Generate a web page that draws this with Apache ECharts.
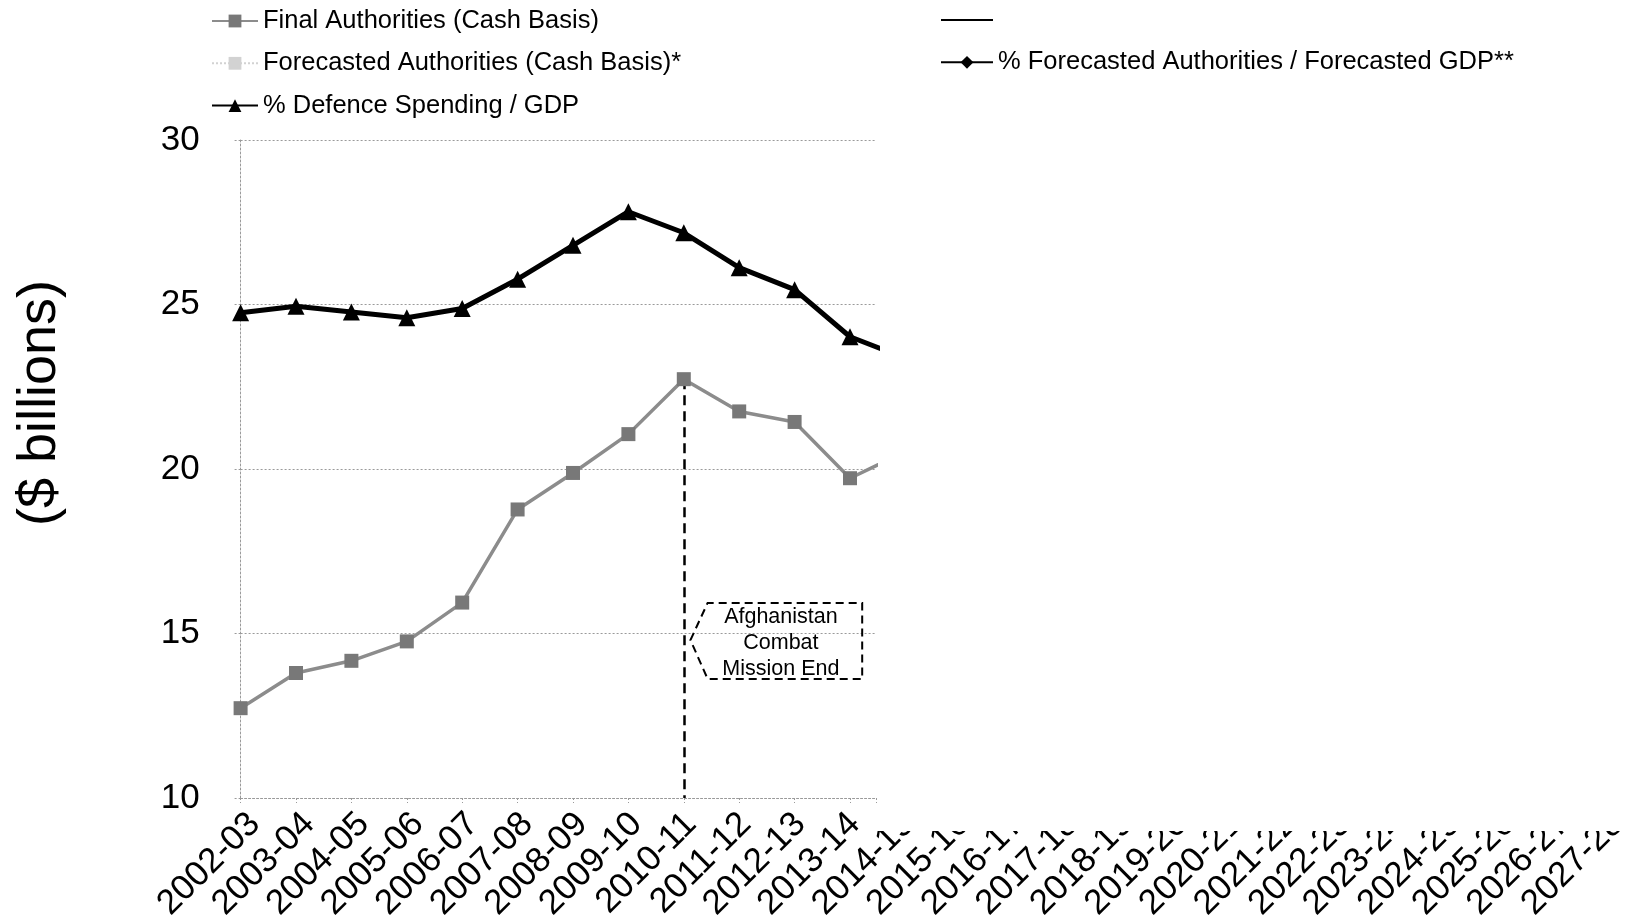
<!DOCTYPE html>
<html>
<head>
<meta charset="utf-8">
<script src="https://cdn.jsdelivr.net/npm/echarts@6/dist/echarts.min.js"></script>
<style>
  html, body { margin: 0; padding: 0; background: #fff; }
  #chart { width: 1633px; height: 924px; }
</style>
</head>
<body>
<div id="chart"></div>
<script>
// Fiscal years on the category axis
const categories = [
  '2002-03', '2003-04', '2004-05', '2005-06', '2006-07', '2007-08', '2008-09',
  '2009-10', '2010-11', '2011-12', '2012-13', '2013-14', '2014-15', '2015-16',
  '2016-17', '2017-18', '2018-19', '2019-20', '2020-21', '2021-22', '2022-23',
  '2023-24', '2024-25', '2025-26', '2026-27', '2027-28'
];

// Final authorities, cash basis ($ billions)
const finalAuthorities = [12.73, 13.8, 14.17, 14.76, 15.94, 18.77, 19.88, 21.06, 22.73, 21.75, 21.43, 19.72, 20.53];

// Defence spending as a share of GDP, plotted on the same scale
const defenceShareOfGdp = [24.75, 24.95, 24.77, 24.6, 24.88, 25.77, 26.8, 27.82, 27.18, 26.12, 25.45, 24.02, 23.37];

// Forecast series (nothing plotted in the visible part of the chart)
const forecastAuthorities = [];
const forecastShareOfGdp = [];
const blankLegendLine = [];

// Value axis ticks
const yMin = 10, yMax = 30, yStep = 5;

// Year the Afghanistan combat mission ended
const missionEndYear = '2010-11';
const calloutLines = ['Afghanistan', 'Combat', 'Mission End'];

// ---- layout ----
const FONT = '"Liberation Sans", Arial, sans-serif';
const plotLeft = 240.6, plotTop = 140, plotBottom = 798;
const step = 55.4;            // px between fiscal years
const visibleSpan = 11.47;    // years shown before the plot is cut off
const plotRight = plotLeft + step * visibleSpan;
const labelShift = 14;
const gridGray = '#9a9a9a';

const asPairs = arr => arr.map((v, i) => [i, v]);
const missionIdx = categories.indexOf(missionEndYear);

const chart = echarts.init(document.getElementById('chart'), null, { renderer: 'canvas' });

const legendText = { fontSize: 25.5, lineHeight: 26, color: '#000', fontFamily: FONT };

chart.setOption({
  animation: false,
  backgroundColor: '#fff',
  textStyle: { fontFamily: FONT, color: '#000' },
  legend: [
    {
      orient: 'vertical', left: 206, top: 3,
      itemWidth: 46, itemHeight: 16, itemGap: 16.3,
      selectedMode: false,
      textStyle: legendText,
      data: ['Final Authorities (Cash Basis)', 'Forecasted Authorities (Cash Basis)*', '% Defence Spending / GDP']
    },
    {
      orient: 'vertical', left: 935, top: 2,
      itemWidth: 52, itemHeight: 16, itemGap: 16.3,
      selectedMode: false,
      textStyle: legendText,
      data: [{ name: ' ', itemStyle: { opacity: 0 } }, '% Forecasted Authorities / Forecasted GDP**']
    }
  ],
  grid: [
    // carries the full run of year labels
    { left: plotLeft + labelShift, top: plotTop, width: step * (categories.length - 1), height: plotBottom - plotTop },
    // the drawn plot area
    { left: plotLeft, top: plotTop, width: plotRight - plotLeft, height: plotBottom - plotTop }
  ],
  xAxis: [
    {
      gridIndex: 0, type: 'category', data: categories, boundaryGap: false,
      axisLine: { show: false }, axisTick: { show: false }, splitLine: { show: false },
      axisLabel: { interval: 0, rotate: 45, fontSize: 35, margin: 33, color: '#000', fontFamily: FONT }
    },
    {
      gridIndex: 1, type: 'value', min: 0, max: visibleSpan, interval: 1,
      axisLabel: { show: false },
      axisLine: { show: true, lineStyle: { color: gridGray, type: [2, 2], width: 1 } },
      axisTick: { show: true, length: 5, lineStyle: { color: gridGray, type: [2, 2] } },
      splitLine: { show: false }
    }
  ],
  yAxis: [
    {
      gridIndex: 1, type: 'value', min: yMin, max: yMax, interval: yStep,
      axisLabel: { fontSize: 35, margin: 41, color: '#000', fontFamily: FONT },
      axisLine: { show: true, lineStyle: { color: gridGray, type: [2, 2], width: 1 } },
      axisTick: { show: true, length: 8, lineStyle: { color: gridGray, type: [2, 2] } },
      splitLine: { show: true, lineStyle: { color: gridGray, type: [2, 2], width: 1 } }
    },
    { gridIndex: 0, type: 'value', min: yMin, max: yMax, show: false }
  ],
  series: [
    {
      name: 'Final Authorities (Cash Basis)', type: 'line',
      xAxisIndex: 1, yAxisIndex: 0,
      data: asPairs(finalAuthorities),
      symbol: 'rect', symbolSize: 14, z: 3,
      lineStyle: { color: '#8c8c8c', width: 3.5 },
      itemStyle: { color: '#787878' },
      markLine: {
        z: 1, silent: true, symbol: 'none',
        label: { show: false },
        lineStyle: { color: '#000', width: 2.5, type: [10, 6] },
        data: [[{ coord: [missionIdx, finalAuthorities[missionIdx]] }, { coord: [missionIdx, yMin] }]]
      }
    },
    {
      name: 'Forecasted Authorities (Cash Basis)*', type: 'line',
      xAxisIndex: 1, yAxisIndex: 0,
      data: forecastAuthorities,
      symbol: 'rect', symbolSize: 10,
      lineStyle: { color: '#d2d2d2', width: 2, type: 'dotted' },
      itemStyle: { color: '#d2d2d2' }
    },
    {
      name: '% Defence Spending / GDP', type: 'line',
      xAxisIndex: 1, yAxisIndex: 0,
      data: asPairs(defenceShareOfGdp),
      symbol: 'triangle', symbolSize: 17, z: 4,
      lineStyle: { color: '#000', width: 5 },
      itemStyle: { color: '#000' }
    },
    {
      name: ' ', type: 'line',
      xAxisIndex: 1, yAxisIndex: 0,
      data: blankLegendLine,
      symbol: 'none',
      lineStyle: { color: '#000', width: 3 },
      itemStyle: { color: '#000' }
    },
    {
      name: '% Forecasted Authorities / Forecasted GDP**', type: 'line',
      xAxisIndex: 1, yAxisIndex: 0,
      data: forecastShareOfGdp,
      symbol: 'diamond', symbolSize: 14,
      lineStyle: { color: '#000', width: 3 },
      itemStyle: { color: '#000' }
    }
  ]
});

// Callout for the end of the combat mission, placed in data units
const px = p => chart.convertToPixel({ gridIndex: 1 }, p);
const tip = px([8.12, 14.8]);
const tl = px([8.43, 15.93]);
const tr = px([11.22, 15.93]);
const br = px([11.22, 13.62]);
const bl = px([8.43, 13.62]);
const center = [(tl[0] + tr[0]) / 2 - 4, (tl[1] + bl[1]) / 2 + 2];

chart.setOption({
  graphic: [
    {
      // blank panel over the unused right side: the later year labels run under it
      type: 'rect', z: 100, silent: true,
      shape: { x: plotRight + 1, y: plotBottom + 1, width: 1633 - plotRight, height: 32 },
      style: { fill: '#fff' }
    },
    {
      type: 'polygon', z: 50, silent: true,
      shape: { points: [tip, tl, tr, br, bl] },
      style: { fill: 'rgba(255,255,255,0)', stroke: '#000', lineWidth: 2, lineDash: [8, 5] }
    },
    {
      type: 'text', z: 51, silent: true,
      x: center[0], y: center[1],
      style: {
        text: calloutLines.join('\n'),
        fontSize: 21.5, lineHeight: 26, fontFamily: FONT, fill: '#000',
        align: 'center', verticalAlign: 'middle'
      }
    },
    {
      type: 'text', z: 51, silent: true,
      x: 40, y: 403, rotation: Math.PI / 2,
      style: {
        text: '($ billions)',
        fontSize: 54, fontFamily: FONT, fill: '#000',
        align: 'center', verticalAlign: 'middle'
      }
    }
  ]
});
</script>
</body>
</html>
